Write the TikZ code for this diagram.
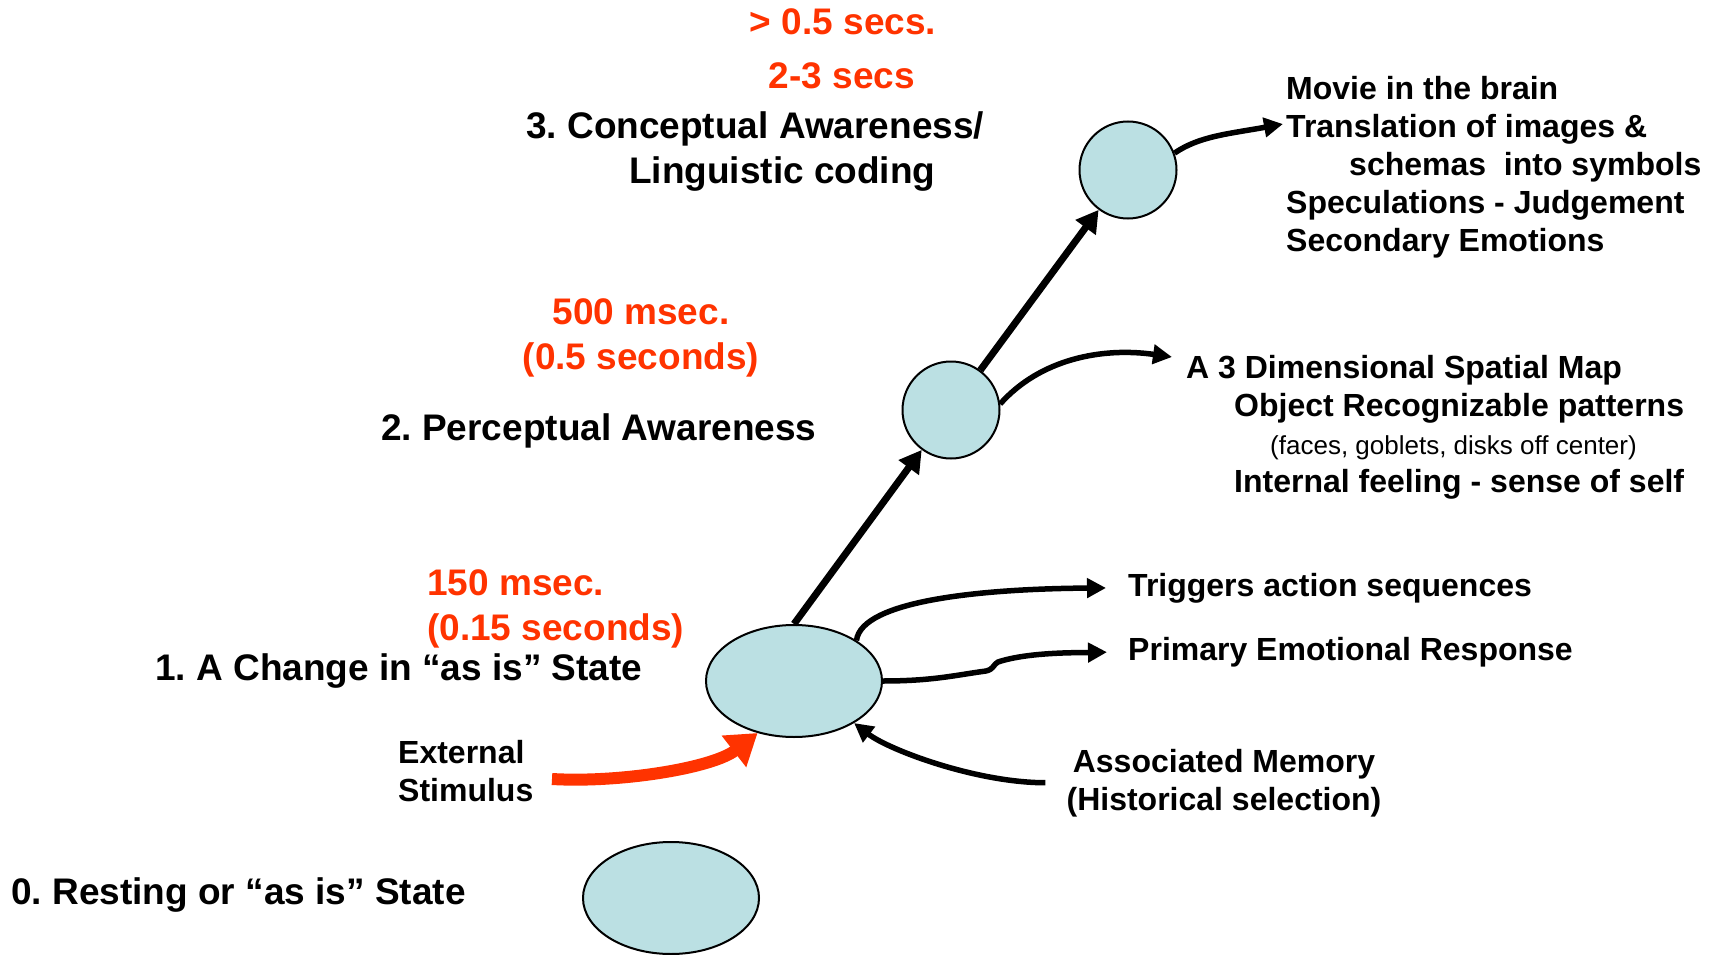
\documentclass[tikz,border=0pt]{standalone}
\usepackage{fontspec}
\setmainfont{Liberation Sans}
\usetikzlibrary{shapes.geometric,arrows.meta}
\definecolor{stateblue}{HTML}{BBE0E3}
\definecolor{timered}{HTML}{FF3300}
\tikzstyle{state} = [draw, ellipse, line width=2pt, fill=stateblue, minimum width=176pt, minimum height=112pt, inner sep=0pt]
\tikzstyle{stage} = [draw, circle, line width=2pt, fill=stateblue, minimum size=97pt, inner sep=0pt]
\tikzstyle{heading} = [inner sep=0pt, font=\bfseries\fontsize{37}{45}\selectfont]
\tikzstyle{timing} = [heading, text=timered]
\tikzstyle{outtext} = [inner sep=0pt, font=\bfseries\fontsize{32}{38}\selectfont]
\tikzstyle{link} = [draw, line width=5.5pt, -{Triangle[length=19pt,width=19pt]}]
\tikzstyle{uplink} = [draw, line width=7pt, -{Triangle[length=22pt,width=24pt]}]
\tikzstyle{stimlink} = [draw=timered, line width=12pt, -{Triangle[length=30pt,width=38pt]}]
\newcommand{\smallnote}{\mdseries\fontsize{26}{31}\selectfont}
\frenchspacing

\begin{document}
\begin{tikzpicture}[x=1pt, y=-1pt]
    \useasboundingbox (0,0) rectangle (1717,955);
    % the four states
    \node[state] (s0) at (671,898) {};
    \node[state] (s1) at (794,681) {};
    \node[stage] (s2) at (951,410) {};
    \node[stage] (s3) at (1128,170) {};
    % stage names and times (base = last line)
    \node[timing, anchor=base] (t3a) at (843,35) {> 0.5 secs.};
    \node[timing, anchor=base] (t3b) at (842,89) {2-3 secs};
    \node[heading, anchor=base west, align=left] (l3) at (526,183) {3. Conceptual Awareness/\\\hspace*{103pt}Linguistic coding};
    \node[timing, anchor=base, align=center] (t2) at (641,369) {500 msec.\\(0.5 seconds)};
    \node[heading, anchor=base west] (l2) at (381,440) {2. Perceptual Awareness};
    \node[timing, anchor=base west, align=left] (t1) at (427,640) {150 msec.\\(0.15 seconds)};
    \node[heading, anchor=base west] (l1) at (155,680) {1. A Change in ``as is'' State};
    \node[heading, anchor=base west] (l0) at (11,904) {0. Resting or ``as is'' State};
    \node[outtext, anchor=base west, align=left] (stimlbl) at (398,801) {External\\Stimulus};
    % what each stage gives
    \node[outtext, anchor=base west, align=left] (out3) at (1286,251) {Movie in the brain\\Translation of images \&\\\hspace*{63pt}schemas\ \ into symbols\\Speculations - Judgement\\Secondary Emotions};
    \node[outtext, anchor=base west, align=left] (out2) at (1186,492) {A 3 Dimensional Spatial Map\\\hspace*{48pt}Object Recognizable patterns\\\hspace*{84pt}{\smallnote (faces, goblets, disks off center)}\\\hspace*{48pt}Internal feeling - sense of self};
    \node[outtext, anchor=base west] (trig) at (1128,596) {Triggers action sequences};
    \node[outtext, anchor=base west] (prim) at (1128,660) {Primary Emotional Response};
    \node[outtext, anchor=base, align=center] (mem) at (1224,810) {Associated Memory\\(Historical selection)};
    \coordinate (tr) at (1283,124);
    \coordinate (mapin) at (1172,357);
    \coordinate (stimout) at (552,779);
    % connectors
    \draw[uplink] (s1.north) -- (s2);
    \draw[uplink] (s2) -- (s3);
    \draw[link] (s3.20) .. controls +(25,-17) and +(-55,10) .. (tr);
    \draw[link] (s2.7) .. controls +(40,-45) and +(-70,-10) .. (mapin);
    \draw[link, shorten >=22pt] (s1.33) .. controls +(5,-40) and +(-146,1) .. (trig.west);
    \draw[link, shorten >=21pt] (s1.east) .. controls +(50,0) and +(-30,4) .. ++(103,-10) .. controls +(8,-2) and +(-6,4) .. ++(12,-9) .. controls +(30,-10) and +(-50,1) .. (prim.west);
    \draw[link, shorten <=21pt] (mem.west) .. controls +(-90,0) and +(35,27) .. (s1.-35);
    \draw[stimlink] (stimout) .. controls +(68,4) and +(-45,35) .. (s1.-125);
\end{tikzpicture}
\end{document}
